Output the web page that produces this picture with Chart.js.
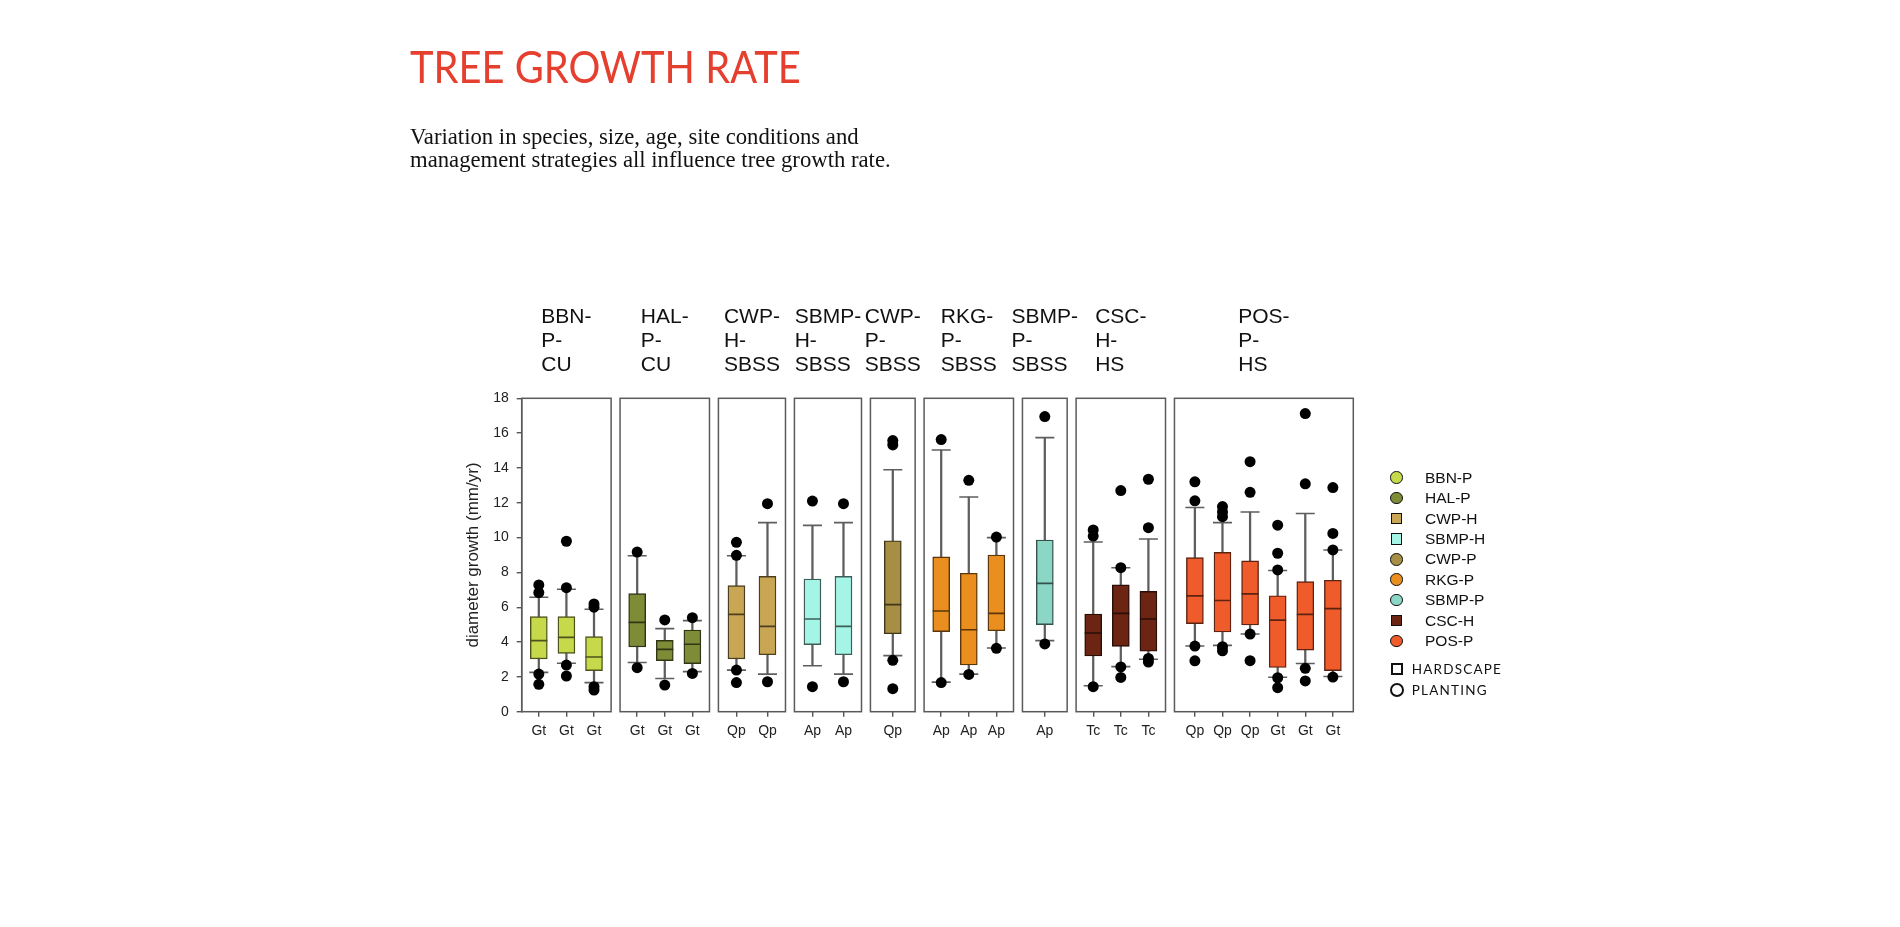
<!DOCTYPE html>
<html>
<head>
<meta charset="utf-8">
<script src="https://cdn.jsdelivr.net/npm/chart.js@4.4.1/dist/chart.umd.min.js"></script>
<style>
  body { margin: 0; background: #fff; }
  #wrap { position: relative; width: 1900px; height: 927px; overflow: hidden; }
  #chart { position: absolute; left: 0; top: 0; }
  .title { position: absolute; left: 410px; top: 44px; font-family: Lato, sans-serif; font-size: 44px;
           line-height: 44px; color: #e5402f; white-space: nowrap; transform: scaleX(0.905); transform-origin: 0 0; }
  .sub { position: absolute; left: 410px; top: 124.5px; font-family: "Liberation Serif", serif; font-size: 22.7px;
         line-height: 23px; color: #111; white-space: nowrap; }
  .leg { position: absolute; font-family: "Liberation Sans", Arial, sans-serif; font-size: 15.5px; color: #111;
         height: 20px; line-height: 20px; white-space: nowrap; }
  .mk { position: absolute; box-sizing: border-box; border: 1.5px solid #111; }
  .kind { position: absolute; font-family: Lato, sans-serif; font-size: 13.5px; letter-spacing: 1.2px; color: #111;
          height: 20px; line-height: 20px; white-space: nowrap; }
</style>
</head>
<body>
<div id="wrap">
  <canvas id="chart" width="1900" height="927"></canvas>
  <div class="title">TREE GROWTH RATE</div>
  <div class="sub">Variation in species, size, age, site conditions and<br>management strategies all influence tree growth rate.</div>
  <div id="legend"></div>
</div>
<script>
// groups (panels) and how many boxes each holds
const groups = ['BBN-P-CU', 'HAL-P-CU', 'CWP-H-SBSS', 'SBMP-H-SBSS', 'CWP-P-SBSS', 'RKG-P-SBSS', 'SBMP-P-SBSS', 'CSC-H-HS', 'POS-P-HS'];
const groupSizes = [3, 3, 2, 2, 1, 3, 1, 3, 6];
const legendNames = ['BBN-P', 'HAL-P', 'CWP-H', 'SBMP-H', 'CWP-P', 'RKG-P', 'SBMP-P', 'CSC-H', 'POS-P'];
const groupColors = ['#c5d94a', '#7e8b37', '#c9a653', '#a5f5e6', '#a68e45', '#ea8e1f', '#8cd6c5', '#6c2512', '#f05b2b'];

// one entry per box
const species = ['Gt', 'Gt', 'Gt', 'Gt', 'Gt', 'Gt', 'Qp', 'Qp', 'Ap', 'Ap', 'Qp', 'Ap', 'Ap', 'Ap', 'Ap',
                 'Tc', 'Tc', 'Tc', 'Qp', 'Qp', 'Qp', 'Gt', 'Gt', 'Gt'];
const whiskerLow  = [2.26, 2.78, 1.67, 2.83, 1.91, 2.30, 2.39, 2.16, 2.64, 2.16, 3.22, 1.70, 2.16, 3.66, 4.08,
                     1.49, 2.59, 3.01, 3.77, 3.81, 4.46, 1.98, 2.77, 2.02];
const q1          = [3.03, 3.35, 2.36, 3.72, 2.93, 2.76, 3.03, 3.27, 3.85, 3.27, 4.48, 4.60, 2.68, 4.65, 5.00,
                     3.20, 3.75, 3.47, 5.06, 4.58, 4.98, 2.54, 3.54, 2.36];
const median      = [4.08, 4.27, 3.14, 5.13, 3.58, 3.87, 5.59, 4.90, 5.32, 4.90, 6.15, 5.78, 4.71, 5.65, 7.37,
                     4.52, 5.65, 5.32, 6.65, 6.39, 6.77, 5.26, 5.59, 5.92];
const q3          = [5.46, 5.46, 4.31, 6.78, 4.10, 4.69, 7.24, 7.77, 7.62, 7.77, 9.82, 8.89, 7.95, 9.00, 9.86,
                     5.61, 7.28, 6.91, 8.85, 9.15, 8.66, 6.66, 7.47, 7.55];
const whiskerHigh = [6.57, 7.03, 5.88, 8.96, 4.77, 5.23, 8.96, 10.86, 10.70, 10.86, 13.90, 15.03, 12.33, 10.00, 15.74,
                     9.75, 8.27, 9.92, 11.73, 10.86, 11.47, 8.11, 11.38, 9.29];
const outliers = [
  [7.28, 6.84, 2.16, 1.57], [9.79, 7.12, 2.68, 2.05], [6.19, 6.00, 1.44, 1.24],
  [9.17, 2.53], [5.27, 1.53], [5.40, 2.20],
  [9.73, 8.98, 2.39, 1.67], [11.95, 1.72],
  [12.10, 1.44], [11.95, 1.72],
  [15.57, 15.32, 2.95, 1.32],
  [15.63, 1.67], [13.29, 2.14], [10.03, 3.64],
  [16.95, 3.89],
  [10.44, 10.09, 1.44], [12.70, 8.27, 2.57, 1.97], [13.35, 10.57, 3.06, 2.85],
  [13.20, 12.11, 3.77, 2.92], [11.78, 11.47, 11.20, 3.73, 3.50], [14.36, 12.60, 4.46, 2.93],
  [10.71, 9.10, 8.14, 1.95, 1.38], [17.12, 13.09, 2.49, 1.77], [12.87, 10.24, 9.29, 1.99]
];
const yTicks = [0, 2, 4, 6, 8, 10, 12, 14, 16, 18];

// panel layout: relative panel widths and the gap between them
const panelUnits = [2, 2, 1.5, 1.5, 1, 2, 1, 2, 4];
const GAP = 0.2;

let panelLeft = [], boxX = [], boxGroup = [];
let cursor = 0;
groupSizes.forEach((n, g) => {
    const w = panelUnits[g];
    panelLeft.push(cursor);
    for (let i = 1; i <= n; i++) {
        boxX.push(cursor + (i - 0.5 + 0.04 * n) / (1.08 * n) * w);
        boxGroup.push(g);
    }
    cursor += w + GAP;
});
const xMax = cursor - GAP;

function darken(hex, f) {
    const n = parseInt(hex.slice(1), 16);
    const r = Math.round((n >> 16) * f), g = Math.round(((n >> 8) & 255) * f), b = Math.round((n & 255) * f);
    return `rgb(${r},${g},${b})`;
}

const boxFill = boxGroup.map(g => groupColors[g]);
const boxEdge = boxGroup.map(g => darken(groupColors[g], 0.38));

let outlierPts = [];
outliers.forEach((list, i) => list.forEach(v => outlierPts.push({x: boxX[i], y: v})));
let capPts = [];
boxX.forEach((x, i) => { capPts.push({x: x, y: whiskerLow[i]}); capPts.push({x: x, y: whiskerHigh[i]}); });

let datasets = [
    {
        type: 'bar',
        data: boxX.map((x, i) => ({x: x, y: [whiskerLow[i], whiskerHigh[i]]})),
        backgroundColor: '#5e5e5e',
        barThickness: 1.6,
        grouped: false,
        order: 5
    },
    {
        type: 'bar',
        data: boxX.map((x, i) => ({x: x, y: [q1[i], q3[i]]})),
        backgroundColor: boxFill,
        borderColor: boxEdge,
        borderWidth: 1.4,
        borderSkipped: false,
        barThickness: 17,
        grouped: false,
        order: 4
    },
    {
        type: 'scatter',
        data: boxX.map((x, i) => ({x: x, y: median[i]})),
        pointStyle: 'line',
        radius: 8.5,
        borderColor: boxEdge,
        borderWidth: 1.6,
        order: 3
    },
    {
        type: 'scatter',
        data: capPts,
        pointStyle: 'line',
        radius: 9.5,
        borderColor: '#5e5e5e',
        borderWidth: 1.6,
        order: 3
    },
    {
        type: 'scatter',
        data: outlierPts,
        pointStyle: 'circle',
        radius: 5.5,
        backgroundColor: '#000',
        borderWidth: 0,
        order: 1
    }
];

const panelPlugin = {
    id: 'panels',
    beforeDatasetsDraw(chart) {
        const {ctx, scales: {x, y}} = chart;
        ctx.save();
        ctx.strokeStyle = '#5a5a5a';
        ctx.lineWidth = 1.5;
        groupSizes.forEach((n, g) => {
            const l = x.getPixelForValue(panelLeft[g]);
            const r = x.getPixelForValue(panelLeft[g] + panelUnits[g]);
            const t = y.getPixelForValue(18), b = y.getPixelForValue(0);
            ctx.strokeRect(l, t, r - l, b - t);
        });
        ctx.restore();
    },
    afterDraw(chart) {
        const {ctx, chartArea, scales: {x}} = chart;
        ctx.save();
        ctx.font = '21px "Liberation Sans", Arial, sans-serif';
        ctx.fillStyle = '#111';
        ctx.textBaseline = 'alphabetic';
        groups.forEach((name, g) => {
            const parts = name.split('-');
            const lines = parts.map((p, k) => k < parts.length - 1 ? p + '-' : p);
            const maxW = Math.max(...lines.map(s => ctx.measureText(s).width));
            const c = x.getPixelForValue(panelLeft[g] + panelUnits[g] / 2);
            lines.forEach((s, k) => ctx.fillText(s, c - maxW / 2, chartArea.top - 75 + k * 24));
        });
        ctx.restore();
    }
};

new Chart(document.getElementById('chart'), {
    type: 'bar',
    data: { datasets: datasets },
    options: {
        responsive: false,
        animation: false,
        layout: { padding: { left: 451.7, right: 546.7, top: 398.3, bottom: 175.3 } },
        plugins: { legend: { display: false }, tooltip: { enabled: false } },
        scales: {
            x: {
                type: 'linear',
                min: 0,
                max: xMax,
                offset: false,
                afterBuildTicks: s => { s.ticks = boxX.map(v => ({value: v})); },
                afterFit: s => { s.height = 40; },
                ticks: {
                    autoSkip: false,
                    maxRotation: 0,
                    padding: 6.5,
                    color: '#222',
                    font: { family: '"Liberation Sans", Arial, sans-serif', size: 14 },
                    callback: (v, i) => species[i]
                },
                grid: { offset: false, drawOnChartArea: false, drawTicks: true, tickLength: 5, color: '#555', lineWidth: 1.4 },
                border: { display: false }
            },
            y: {
                min: 0,
                max: 18,
                afterBuildTicks: s => { s.ticks = yTicks.map(v => ({value: v})); },
                afterFit: s => { s.width = 70; },
                ticks: {
                    padding: 8,
                    color: '#222',
                    font: { family: '"Liberation Sans", Arial, sans-serif', size: 14 }
                },
                grid: { drawOnChartArea: false, drawTicks: true, tickLength: 5, color: '#555', lineWidth: 1.4 },
                border: { display: true, color: '#5a5a5a', width: 1.5 },
                title: {
                    display: true,
                    text: 'diameter growth (mm/yr)',
                    color: '#222',
                    font: { family: '"Liberation Sans", Arial, sans-serif', size: 17 },
                    padding: { top: 11, bottom: 0 }
                }
            }
        }
    },
    plugins: [panelPlugin]
});

// legend next to the plot
const legend = document.getElementById('legend');
legendNames.forEach((name, i) => {
    const cy = 477.7 + i * 20.4;
    const round = name.endsWith('-P');
    const size = round ? 12.5 : 11.5;
    const mk = document.createElement('div');
    mk.className = 'mk';
    mk.style.cssText = `left:${1396.7 - size / 2}px;top:${cy - size / 2}px;width:${size}px;height:${size}px;` +
        `background:${groupColors[i]};border-radius:${round ? '50%' : '0'}`;
    legend.appendChild(mk);
    const t = document.createElement('div');
    t.className = 'leg';
    t.style.left = '1425px';
    t.style.top = (cy - 10) + 'px';
    t.textContent = name;
    legend.appendChild(t);
});
[['HARDSCAPE', 669, false], ['PLANTING', 690, true]].forEach(([label, cy, round]) => {
    const size = round ? 14 : 12.5;
    const mk = document.createElement('div');
    mk.className = 'mk';
    mk.style.cssText = `left:${1397 - size / 2}px;top:${cy - size / 2}px;width:${size}px;height:${size}px;` +
        `border:2.2px solid #111;border-radius:${round ? '50%' : '0'}`;
    legend.appendChild(mk);
    const t = document.createElement('div');
    t.className = 'kind';
    t.style.left = '1411.7px';
    t.style.top = (cy - 10) + 'px';
    t.textContent = label;
    legend.appendChild(t);
});
</script>
</body>
</html>
